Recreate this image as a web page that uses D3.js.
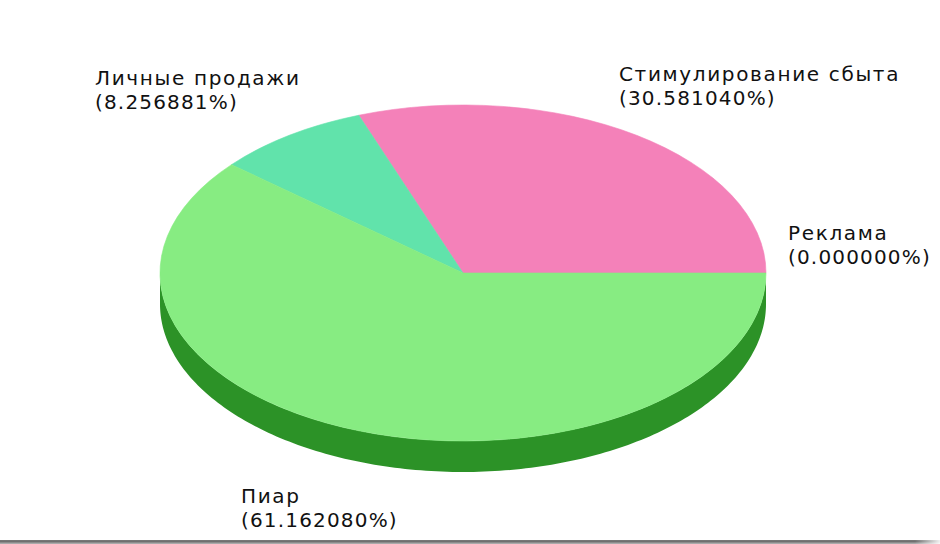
<!DOCTYPE html>
<html>
<head>
<meta charset="utf-8">
<script src="https://cdn.jsdelivr.net/npm/d3@7"></script>
<style>
html, body { margin: 0; padding: 0; background: #fff; overflow: hidden; }
text { font-family: "DejaVu Sans"; font-size: 20px; fill: #111; }
.name { letter-spacing: 1.65px; }
.share { letter-spacing: 1.17px; }
</style>
</head>
<body>
<div id="chart"></div>
<script>
var categories = ["Реклама", "Стимулирование сбыта", "Личные продажи", "Пиар"]
var shares = [0.000000, 30.581040, 8.256881, 61.162080]
var sliceColours = ["#f481b9", "#f481b9", "#61e3ab", "#87ec82"]
var sideColour = "#2c9227"
var labelX = [788, 619, 95, 241]
var labelY = [240, 81, 85, 503]

var width = 940
var height = 544
var cx = 463
var cy = 273
var rx = 303
var ry = 168
var depth = 31

var svg = d3.select("#chart")
    .append("svg")
        .attr("width", width)
        .attr("height", height)

// unit circle squashed to the ellipse, so slice angles stay in pie space
var x = d3.scaleLinear().domain([-1, 1]).range([cx - rx, cx + rx])
var y = d3.scaleLinear().domain([-1, 1]).range([cy - ry, cy + ry])

var pie = d3.pie()
    .sort(null)
    .startAngle(Math.PI / 2)
    .endAngle(Math.PI / 2 - 2 * Math.PI)

var arc = d3.arc().innerRadius(0).outerRadius(1)

// rim of the front half
var halfTurn = d3.range(0, 181).map(function(a){ return a * Math.PI / 180 })
var rim = d3.area()
    .x(function(a){ return x(Math.cos(a)) })
    .y0(function(a){ return y(Math.sin(a)) })
    .y1(function(a){ return y(Math.sin(a)) + depth })

svg.append("path")
    .attr("d", rim(halfTurn))
    .attr("fill", sideColour)

svg.append("g")
    .attr("transform", "translate(" + cx + "," + cy + ") scale(" + rx + "," + ry + ")")
    .selectAll("path")
    .data(pie(shares))
    .enter()
    .append("path")
    .attr("d", arc)
    .attr("fill", function(d, i){ return sliceColours[i] })
    .attr("stroke", function(d, i){ return sliceColours[i] })
    .attr("stroke-width", 0.6)
    .attr("vector-effect", "non-scaling-stroke")

var labels = svg.selectAll("text.label")
    .data(categories)
    .enter()
    .append("text")
    .attr("class", "label")
    .attr("x", function(d, i){ return labelX[i] })
    .attr("y", function(d, i){ return labelY[i] })

labels.append("tspan")
    .attr("class", "name")
    .text(function(d){ return d })

labels.append("tspan")
    .attr("class", "share")
    .attr("x", function(d, i){ return labelX[i] })
    .attr("dy", 24)
    .text(function(d, i){ return "(" + shares[i].toFixed(6) + "%)" })

// window edge along the bottom
var edge = d3.scaleLinear().domain([0, 1, 2, 3]).range(["#777777", "#707070", "#8c8c8c", "#aaaaaa"])
svg.selectAll("rect.edge")
    .data([0, 1, 2, 3])
    .enter()
    .append("rect")
    .attr("class", "edge")
    .attr("x", 0)
    .attr("y", function(d){ return 540 + d })
    .attr("width", width)
    .attr("height", 1)
    .attr("fill", function(d){ return edge(d) })

// the edge fades out at the right end
var fade = svg.append("linearGradient").attr("id", "edgeFade")
fade.append("stop").attr("offset", 0).attr("stop-color", "#fff").attr("stop-opacity", 0)
fade.append("stop").attr("offset", 1).attr("stop-color", "#fff").attr("stop-opacity", 0.9)
svg.append("rect")
    .attr("x", 915)
    .attr("y", 540)
    .attr("width", 25)
    .attr("height", 4)
    .attr("fill", "url(#edgeFade)")
</script>
</body>
</html>
